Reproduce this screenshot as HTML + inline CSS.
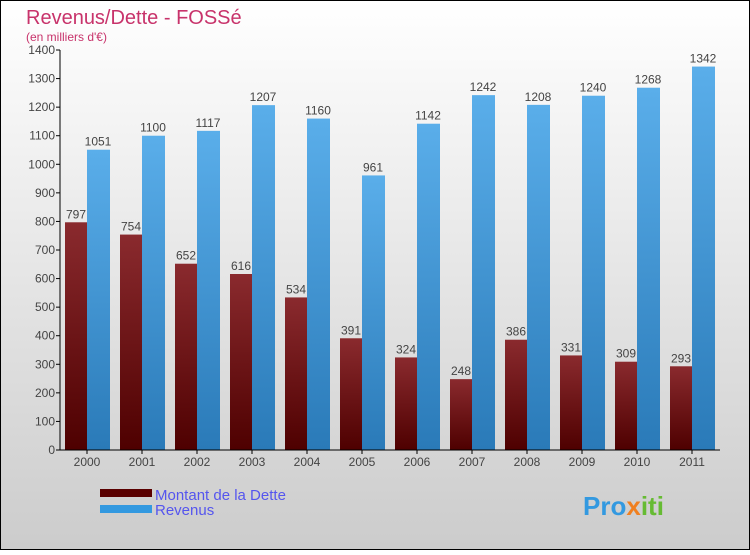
<!DOCTYPE html>
<html><head><meta charset="utf-8"><style>
body{margin:0;width:750px;height:550px;overflow:hidden;font-family:"Liberation Sans",sans-serif}
</style></head><body>
<svg width="750" height="550" xmlns="http://www.w3.org/2000/svg">
<defs>
<linearGradient id="bg" x1="0" y1="0" x2="0" y2="1"><stop offset="0" stop-color="#ffffff"/><stop offset="1" stop-color="#cccccc"/></linearGradient>
<linearGradient id="gd" x1="0" y1="0" x2="0" y2="1"><stop offset="0" stop-color="#8a2a2e"/><stop offset="1" stop-color="#4e0000"/></linearGradient>
<linearGradient id="gr" x1="0" y1="0" x2="0" y2="1"><stop offset="0" stop-color="#5aaeea"/><stop offset="1" stop-color="#2a7ab8"/></linearGradient>
</defs>
<rect x="0.5" y="0.5" width="749" height="549" fill="url(#bg)" stroke="#000"/>
<text x="26" y="24" font-size="20" fill="#c8336b">Revenus/Dette - FOSSé</text>
<text x="26" y="41" font-size="12" fill="#c8336b">(en milliers d'€)</text>
<g id="plot"></g>
<rect x="100" y="489" width="52" height="8" fill="#5a0000"/>
<rect x="100" y="505" width="52" height="8" fill="#3399e0"/>
<text x="155" y="500" font-size="15" fill="#5555ee">Montant de la Dette</text>
<text x="155" y="515" font-size="15" fill="#5555ee">Revenus</text>
<text x="583" y="515" font-size="26" font-weight="bold" fill="#3399e0">Pro<tspan fill="#f08020">x</tspan><tspan fill="#66bb33">iti</tspan></text>
</svg>
<script>
const years=["2000","2001","2002","2003","2004","2005","2006","2007","2008","2009","2010","2011"];
const dette=[797,754,652,616,534,391,324,248,386,331,309,293];
const revenus=[1051,1100,1117,1207,1160,961,1142,1242,1208,1240,1268,1342];
const ticks=[0,100,200,300,400,500,600,700,800,900,1000,1100,1200,1300,1400];
const NS="http://www.w3.org/2000/svg";
const g=document.getElementById("plot");
const y=v=>450-v*400/1400;
const xc=i=>87+i*55;
function mk(t,a){const e=document.createElementNS(NS,t);for(const k in a)e.setAttribute(k,a[k]);g.appendChild(e);return e;}
ticks.forEach(t=>{
 const l=mk("line",{x1:56,x2:60,y1:y(t),y2:y(t),stroke:"#000"});
 
 
 const tx=mk("text",{x:55,y:y(t)+4,"font-size":12,fill:"#444","text-anchor":"end"});tx.textContent=t;
 
 
});
years.forEach((yr,i)=>{
 const c=xc(i);
 const b1=mk("rect",{x:c-22,y:y(dette[i]),width:22,height:450-y(dette[i]),fill:"url(#gd)"});
 
 
 const b2=mk("rect",{x:c,y:y(revenus[i]),width:23,height:450-y(revenus[i]),fill:"url(#gr)"});
 
 
 const l1=mk("text",{x:c-11,y:y(dette[i])-4,"font-size":12,fill:"#444","text-anchor":"middle"});l1.textContent=dette[i];
 
 
 const l2=mk("text",{x:c+11,y:y(revenus[i])-4,"font-size":12,fill:"#444","text-anchor":"middle"});l2.textContent=revenus[i];
 
 
 const tk=mk("line",{x1:c,x2:c,y1:450,y2:454,stroke:"#000"});
 
 
 const xl=mk("text",{x:c,y:466,"font-size":12,fill:"#444","text-anchor":"middle"});xl.textContent=yr;
 
 
});
const ya=mk("line",{x1:60,x2:60,y1:50,y2:450,stroke:"#000"});


const xa=mk("line",{x1:60,x2:720,y1:450,y2:450,stroke:"#000"});


</script>
</body></html>
